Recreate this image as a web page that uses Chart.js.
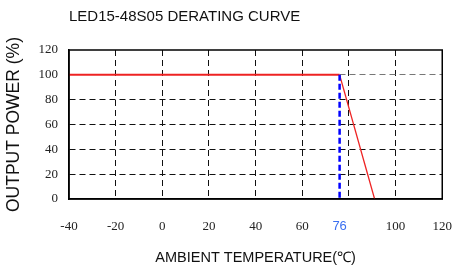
<!DOCTYPE html>
<html>
<head>
<meta charset="utf-8">
<script src="https://cdn.jsdelivr.net/npm/chart.js@4/dist/chart.umd.min.js"></script>
<style>
  html, body { margin: 0; padding: 0; background: #fff; }
  #wrap { width: 452px; height: 273px; }
</style>
</head>
<body>
<div id="wrap"><canvas id="c" width="452" height="273"></canvas></div>
<script>
// ---- data ----
const curveTemp = [-40, 76, 91];
const curvePower = [100, 100, 0];
const markerTemp = [76, 76];
const markerPower = [100, 0];
const xTickValues = [-40, -20, 0, 20, 40, 60, 76, 80, 100, 120];
const xTickLabels = ['-40', '-20', '0', '20', '40', '60', '76', '', '100', '120'];
const yTickValues = [0, 20, 40, 60, 80, 100, 120];
const yTickLabels = ['0', '20', '40', '60', '80', '100', '120'];
const titleText = 'LED15-48S05 DERATING CURVE';
const xTitle = 'AMBIENT TEMPERATURE(\u2103)';
const yTitle = 'OUTPUT POWER (%)';

const toPts = (xs, ys) => xs.map((x, i) => ({x: x, y: ys[i]}));

const framePlugin = {
  id: 'frame',
  afterDatasetsDraw(chart) {
    const {ctx, chartArea: a} = chart;
    ctx.save();
    ctx.strokeStyle = '#000';
    ctx.lineWidth = 1.5;
    ctx.strokeRect(a.left, a.top, a.right - a.left, a.bottom - a.top);
    ctx.restore();
  }
};

new Chart(document.getElementById('c'), {
  type: 'scatter',
  data: {
    datasets: [
      {
        data: toPts(curveTemp, curvePower),
        showLine: true,
        borderColor: '#ee2222',
        borderWidth: 2,
        pointRadius: 0,
        segment: { borderWidth: ctx => ctx.p0DataIndex === 0 ? 2 : 1.3 },
        order: 1
      },
      {
        data: toPts(markerTemp, markerPower),
        showLine: true,
        borderColor: '#0000ff',
        borderWidth: 2.5,
        borderDash: [6, 3],
        pointRadius: 0,
        order: 0
      }
    ]
  },
  options: {
    responsive: false,
    animation: false,
    events: [],
    layout: { padding: { left: 0, right: 9, top: 0, bottom: 0 } },
    plugins: {
      legend: { display: false },
      tooltip: { enabled: false },
      title: {
        display: true,
        text: titleText,
        fullSize: false,
        align: 'start',
        color: '#111',
        font: { family: "'Liberation Sans', Arial, sans-serif", size: 15, weight: 'normal', lineHeight: 1.2 },
        padding: { top: 8, bottom: 24 }
      }
    },
    scales: {
      x: {
        type: 'linear',
        min: -40,
        max: 120,
        afterBuildTicks: s => { s.ticks = xTickValues.map(v => ({value: v})); },
        afterFit: s => { s.height = 74; },
        ticks: {
          autoSkip: false,
          maxRotation: 0,
          padding: 0,
          color: ctx => ctx.tick && ctx.tick.value === 76 ? '#3a6ff0' : '#222',
          font: ctx => ctx.tick && ctx.tick.value === 76
            ? { family: "'Liberation Sans', Arial, sans-serif", size: 13 }
            : { family: "'Liberation Serif', 'Times New Roman', serif", size: 13 },
          callback: v => { const i = xTickValues.indexOf(v); return i >= 0 ? xTickLabels[i] : ''; }
        },
        grid: {
          drawTicks: true,
          tickLength: 20,
          tickColor: 'rgba(0,0,0,0)',
          lineWidth: 1,
          color: ctx => {
            const v = ctx.tick ? ctx.tick.value : null;
            if (v === 76 || v === -40 || v === 120) return 'rgba(0,0,0,0)';
            return '#111';
          }
        },
        border: { display: true, color: '#000', width: 1.5, dash: [6, 4] },
        title: {
          display: true,
          text: xTitle,
          color: '#111',
          font: { family: "'Liberation Sans', Arial, sans-serif", size: 14.5, lineHeight: 1.2 },
          padding: { top: 0, bottom: 6 }
        }
      },
      y: {
        type: 'linear',
        min: 0,
        max: 120,
        afterBuildTicks: s => { s.ticks = yTickValues.map(v => ({value: v})); },
        afterFit: s => { s.width = 69; },
        ticks: {
          autoSkip: false,
          padding: 0,
          color: '#222',
          font: { family: "'Liberation Serif', 'Times New Roman', serif", size: 13 },
          callback: v => { const i = yTickValues.indexOf(v); return i >= 0 ? yTickLabels[i] : ''; }
        },
        grid: {
          drawTicks: true,
          tickLength: 11,
          tickColor: 'rgba(0,0,0,0)',
          lineWidth: 1,
          color: ctx => {
            const v = ctx.tick ? ctx.tick.value : null;
            if (v === 0 || v === 120) return 'rgba(0,0,0,0)';
            if (v === 100) return '#777';
            return '#111';
          }
        },
        border: { display: true, color: '#000', width: 1.5, dash: [6, 4] },
        title: {
          display: true,
          text: yTitle,
          color: '#111',
          font: { family: "'Liberation Sans', Arial, sans-serif", size: 17.5, lineHeight: 1.2 },
          padding: { top: 4, bottom: 0 }
        }
      }
    }
  },
  plugins: [framePlugin]
});
</script>
</body>
</html>
